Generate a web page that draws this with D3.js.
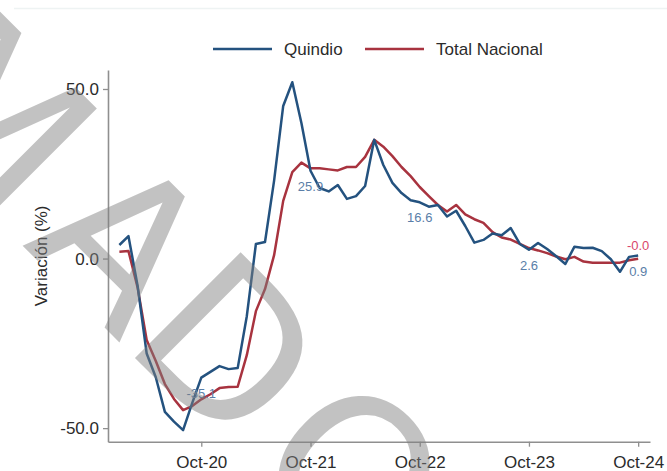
<!DOCTYPE html>
<html>
<head>
<meta charset="utf-8">
<script src="https://cdn.jsdelivr.net/npm/d3@7"></script>
<style>
  html, body { margin: 0; padding: 0; background: #ffffff; }
  svg { display: block; }
  text { font-family: "Liberation Sans", Arial, sans-serif; }
</style>
</head>
<body>
<svg id="chart" width="667" height="471"></svg>
<script>
// Monthly series, Jan-2020 .. Oct-2024 (annual variation, %)
const monthIndex = d3.range(0, 58);
const quindio = [
  4.0, 6.6, -8.0, -28.0, -35.0, -45.2, -48.1, -50.6, -42.6, -35.1,
  -33.4, -31.7, -32.6, -32.3, -17.0, 4.3, 4.9, 23.0, 45.0, 52.0,
  40.0, 25.9, 20.8, 19.8, 21.7, 17.6, 18.4, 21.4, 35.0, 27.6,
  22.3, 19.3, 17.2, 16.6, 15.3, 15.8, 12.4, 14.1, 9.6, 4.7,
  5.5, 7.4, 6.9, 9.0, 4.3, 2.6, 4.6, 2.8, 0.7, -1.6,
  3.5, 3.1, 3.2, 2.2, -0.2, -3.9, 0.5, 0.9
];
const totalNacional = [
  2.0, 2.2, -8.5, -24.0, -30.2, -37.0, -41.4, -44.7, -43.5, -41.5,
  -40.0, -38.2, -37.9, -37.8, -28.5, -15.5, -9.0, 1.0, 17.0, 25.5,
  28.3, 26.6, 26.6, 26.3, 26.0, 27.0, 27.0, 30.0, 35.0, 33.0,
  30.2, 27.0, 24.3, 21.1, 18.4, 15.8, 13.9, 15.8, 13.0, 11.6,
  10.5, 7.8, 6.2, 5.6, 4.3, 3.1, 2.4, 1.6, 0.6, -0.2,
  0.5, -0.9, -1.2, -1.2, -1.2, -1.2, -0.5, -0.04
];
const xTickIndex = [9, 21, 33, 45, 57];
const xTickLabels = ["Oct-20", "Oct-21", "Oct-22", "Oct-23", "Oct-24"];
const yTicks = [-50, 0, 50];
const quindioLabelIndex = [9, 21, 33, 45, 57];
const totalLabelIndex = [57];
const seriesNames = ["Quindio", "Total Nacional"];
const watermarkText = "ESTIMADO";

const colors = { quindio: "#24527f", total: "#a8333f",
                 quindioLabel: "#5a7ea8", totalLabel: "#d9466b" };

const svg = d3.select("#chart");

// faint rule along the top
svg.append("line")
  .attr("x1", 14).attr("x2", 667).attr("y1", 8.5).attr("y2", 8.5)
  .attr("stroke", "#eef3f3").attr("stroke-width", 1.5);

const x = d3.scaleLinear().domain([-1.25, 58.3]).range([108, 650]);
const y = d3.scaleLinear().domain([-54, 55.6]).range([441.7, 70]);

// one decimal, plain hyphen sign (keeps "-0.0")
const fmt = v => (+v).toFixed(1);

// axes
const xAxis = svg.append("g")
  .attr("transform", `translate(0,${y.range()[0]})`)
  .call(d3.axisBottom(x).tickValues(xTickIndex)
    .tickFormat((d, i) => xTickLabels[i])
    .tickSize(5).tickSizeOuter(0).tickPadding(9));
const yAxis = svg.append("g")
  .attr("transform", `translate(${x.range()[0]},0)`)
  .call(d3.axisLeft(y).tickValues(yTicks).tickFormat(fmt)
    .tickSize(5).tickSizeOuter(0).tickPadding(4));

[xAxis, yAxis].forEach(g => {
  g.select(".domain").attr("stroke", "#8f8f8f").attr("stroke-width", 1.6);
  g.selectAll(".tick line").attr("stroke", "#8f8f8f").attr("stroke-width", 1.3);
  g.selectAll(".tick text").attr("fill", "#2b2b2b")
    .style("font-size", "17px").style("font-family", "'Liberation Sans', Arial, sans-serif");
});

// y axis title
svg.append("text")
  .attr("transform", `translate(47,${(y.range()[0] + y.range()[1]) / 2}) rotate(-90)`)
  .attr("text-anchor", "middle")
  .attr("fill", "#2b2b2b")
  .style("font-size", "17px")
  .text("Variación (%)");

// lines
const line = vals => d3.line()
  .x((d, i) => x(monthIndex[i]))
  .y(d => y(d))(vals);

svg.append("path").attr("d", line(totalNacional))
  .attr("fill", "none").attr("stroke", colors.total)
  .attr("stroke-width", 2.5).attr("stroke-linejoin", "round");
svg.append("path").attr("d", line(quindio))
  .attr("fill", "none").attr("stroke", colors.quindio)
  .attr("stroke-width", 2.5).attr("stroke-linejoin", "round");

// value labels
svg.append("g").selectAll("text")
  .data(quindioLabelIndex).join("text")
  .attr("x", i => x(monthIndex[i]))
  .attr("y", i => y(quindio[i]) + 20)
  .attr("text-anchor", "middle")
  .attr("fill", colors.quindioLabel)
  .style("font-size", "13px")
  .text(i => fmt(quindio[i]));
svg.append("g").selectAll("text")
  .data(totalLabelIndex).join("text")
  .attr("x", i => x(monthIndex[i]))
  .attr("y", i => y(totalNacional[i]) - 8.5)
  .attr("text-anchor", "middle")
  .attr("fill", colors.totalLabel)
  .style("font-size", "13px")
  .text(i => fmt(totalNacional[i]));

// legend
const legend = svg.append("g");
const legendItems = [
  { name: seriesNames[0], color: colors.quindio, x0: 213 },
  { name: seriesNames[1], color: colors.total, x0: 365 }
];
legendItems.forEach(it => {
  legend.append("line")
    .attr("x1", it.x0).attr("x2", it.x0 + 59)
    .attr("y1", 49).attr("y2", 49)
    .attr("stroke", it.color).attr("stroke-width", 2.5);
  legend.append("text")
    .attr("x", it.x0 + 71).attr("y", 55)
    .attr("fill", "#2b2b2b")
    .style("font-size", "17px")
    .text(it.name);
});

// diagonal watermark over the plot
svg.append("text")
  .attr("transform", "translate(-434.8,-211.8) rotate(45)")
  .attr("dx", "0 0 0 0 0 23 0 17")
  .style("font-family", "'DejaVu Sans', sans-serif")
  .style("font-size", "205px")
  .attr("fill", "#808080")
  .attr("fill-opacity", 0.48)
  .text(watermarkText);
</script>
</body>
</html>
